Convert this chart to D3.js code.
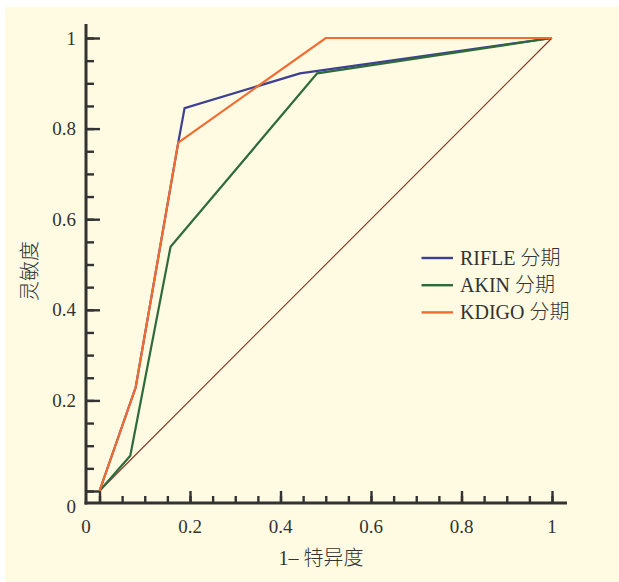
<!DOCTYPE html>
<html>
<head>
<meta charset="utf-8">
<script src="https://cdn.jsdelivr.net/npm/d3@7"></script>
<style>
  body { margin: 0; background: #fff; }
  text { font-family: "Liberation Serif", "Noto Sans CJK SC", serif; fill: #333; font-weight: 300; }
</style>
</head>
<body>
<div id="chart"></div>
<script>
// ROC points, [1-specificity, sensitivity]
var rifle = [[0, 0], [0.08, 0.229], [0.174, 0.769], [0.188, 0.845], [0.443, 0.922], [1, 1]];
var akin = [[0, 0], [0.068, 0.078], [0.157, 0.539], [0.481, 0.922], [1, 1]];
var kdigo = [[0, 0], [0.08, 0.229], [0.174, 0.769], [0.5, 1], [1, 1]];
var diagonal = [[0, 0], [1, 1]];

var seriesNames = ["RIFLE 分期", "AKIN 分期", "KDIGO 分期"];
var seriesColors = ["#3d3f94", "#2f6a3c", "#f26b2f"];
var majorTicks = [0, 0.2, 0.4, 0.6, 0.8, 1];
var tickLabels = ["0", "0.2", "0.4", "0.6", "0.8", "1"];
var minorTicks = d3.range(0, 1.0001, 0.05);

var width = 619, height = 582;

var svg = d3.select("#chart").append("svg")
    .attr("width", width)
    .attr("height", height);

svg.append("rect")
    .attr("x", 5).attr("y", 7)
    .attr("width", width - 5).attr("height", height - 7)
    .attr("fill", "#fefbe2");

var x = d3.scaleLinear().domain([0, 1]).range([99.5, 552]);
var y = d3.scaleLinear().domain([0, 1]).range([491, 38]);

var axisX = 86, axisY = 503;

// minor + major ticks
var g = svg.append("g");

g.append("g")
    .attr("transform", "translate(0," + axisY + ")")
    .call(d3.axisBottom(x).tickValues(minorTicks).tickSize(-7).tickFormat(""))
    .call(function(s) { s.select(".domain").remove(); });
g.append("g")
    .attr("transform", "translate(0," + axisY + ")")
    .call(d3.axisBottom(x).tickValues(majorTicks).tickSize(-12).tickFormat(""))
    .call(function(s) { s.select(".domain").remove(); });

g.append("g")
    .attr("transform", "translate(" + axisX + ",0)")
    .call(d3.axisLeft(y).tickValues(minorTicks).tickSize(-8).tickFormat(""))
    .call(function(s) { s.select(".domain").remove(); });
g.append("g")
    .attr("transform", "translate(" + axisX + ",0)")
    .call(d3.axisLeft(y).tickValues(majorTicks).tickSize(-14).tickFormat(""))
    .call(function(s) { s.select(".domain").remove(); });

g.selectAll(".tick line")
    .attr("stroke", "#333")
    .attr("stroke-width", 2.4);

// axis lines
svg.append("line")
    .attr("x1", axisX).attr("x2", axisX)
    .attr("y1", 24).attr("y2", axisY + 1.5)
    .attr("stroke", "#333").attr("stroke-width", 3);
svg.append("line")
    .attr("x1", axisX - 1.5).attr("x2", 567)
    .attr("y1", axisY).attr("y2", axisY)
    .attr("stroke", "#333").attr("stroke-width", 3);

// tick labels
svg.selectAll(".xlbl")
    .data(majorTicks).enter().append("text")
    .attr("class", "xlbl")
    .attr("x", function(d) { return d === 0 ? axisX : x(d); })
    .attr("y", 533)
    .attr("text-anchor", "middle")
    .attr("font-size", 19)
    .text(function(d, i) { return tickLabels[i]; });

svg.selectAll(".ylbl")
    .data(majorTicks).enter().append("text")
    .attr("class", "ylbl")
    .attr("x", 76)
    .attr("y", function(d) { return d === 0 ? 513 : y(d) + 6.5; })
    .attr("text-anchor", "end")
    .attr("font-size", 19)
    .text(function(d, i) { return tickLabels[i]; });

// axis titles
svg.append("text")
    .attr("x", 321).attr("y", 565)
    .attr("text-anchor", "middle")
    .attr("font-size", 20)
    .text("1– 特异度");

svg.append("text")
    .attr("transform", "translate(37,271) rotate(-90)")
    .attr("text-anchor", "middle")
    .attr("font-size", 20)
    .text("灵敏度");

// curves
var line = d3.line()
    .x(function(d) { return x(d[0]); })
    .y(function(d) { return y(d[1]); });

svg.append("path")
    .datum(diagonal)
    .attr("d", line)
    .attr("fill", "none")
    .attr("stroke", "#7e3426")
    .attr("stroke-width", 1.1);

[rifle, akin, kdigo].forEach(function(data, i) {
    svg.append("path")
        .datum(data)
        .attr("d", line)
        .attr("fill", "none")
        .attr("stroke", seriesColors[i])
        .attr("stroke-width", 2.2)
        .attr("stroke-linejoin", "miter");
});

// legend
var legend = svg.selectAll(".legend")
    .data(seriesNames).enter().append("g")
    .attr("class", "legend")
    .attr("transform", function(d, i) { return "translate(0," + (258 + i * 27.2) + ")"; });

legend.append("line")
    .attr("x1", 421.5).attr("x2", 453)
    .attr("stroke", function(d, i) { return seriesColors[i]; })
    .attr("stroke-width", 2.4);

legend.append("text")
    .attr("x", 460)
    .attr("y", 6.5)
    .attr("font-size", 20)
    .text(function(d) { return d; });
</script>
</body>
</html>
